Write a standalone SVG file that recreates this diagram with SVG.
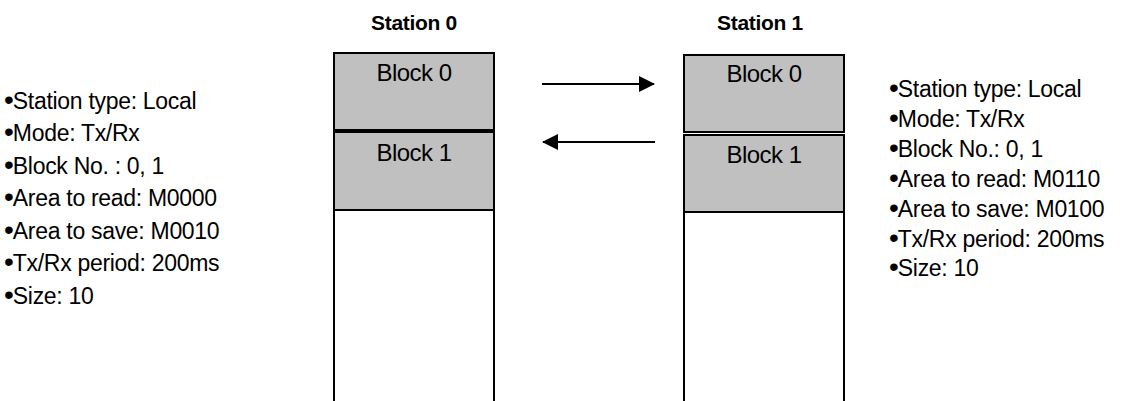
<svg xmlns="http://www.w3.org/2000/svg" width="1128" height="401" viewBox="0 0 1128 401">
<style>
  .t { font-family: "Liberation Sans", Arial, sans-serif; font-size: 23px; fill: #000; letter-spacing: -0.3px; }
  .bu { font-size: 28px; letter-spacing: -1px; }
  .h { font-family: "Liberation Sans", Arial, sans-serif; font-size: 21px; font-weight: bold; fill: #000; text-anchor: middle; letter-spacing: -0.3px; }
  .b { font-family: "Liberation Sans", Arial, sans-serif; font-size: 24px; fill: #000; text-anchor: middle; letter-spacing: -0.5px; }
  .blk { fill: #c0c0c0; stroke: #000; stroke-width: 2; }
  .col { fill: none; stroke: #000; stroke-width: 2; }
  .conn { stroke: #000; stroke-width: 2; fill: none; }
</style>
<defs>
  <marker id="ah" markerWidth="16" markerHeight="16" refX="15" refY="8" orient="auto" markerUnits="userSpaceOnUse">
    <path d="M0,0 L16,8 L0,16 Z" fill="#000"/>
  </marker>
</defs>
<rect width="1128" height="401" fill="#fff"/>

<g id="station0">
  <text class="h" x="414" y="30">Station 0</text>
  <path class="col" d="M334,210 V402 M494,210 V402"/>
  <g id="s0-block0">
    <rect class="blk" x="334" y="53" width="160" height="77"/>
    <text class="b" x="414" y="81">Block 0</text>
  </g>
  <g id="s0-block1">
    <rect class="blk" x="334" y="132" width="160" height="78"/>
    <text class="b" x="414" y="161">Block 1</text>
  </g>
</g>

<g id="station1">
  <text class="h" x="760" y="30">Station 1</text>
  <path class="col" d="M684,212 V402 M844,212 V402"/>
  <g id="s1-block0">
    <rect class="blk" x="684" y="55" width="160" height="77"/>
    <text class="b" x="764" y="82">Block 0</text>
  </g>
  <g id="s1-block1">
    <rect class="blk" x="684" y="135" width="160" height="77"/>
    <text class="b" x="764" y="163">Block 1</text>
  </g>
</g>

<g id="info0">
  <text class="t" x="4" y="109"><tspan class="bu">•</tspan>Station type: Local</text>
  <text class="t" x="4" y="141"><tspan class="bu">•</tspan>Mode: Tx/Rx</text>
  <text class="t" x="4" y="174"><tspan class="bu">•</tspan>Block No. : 0, 1</text>
  <text class="t" x="4" y="206"><tspan class="bu">•</tspan>Area to read: M0000</text>
  <text class="t" x="4" y="239"><tspan class="bu">•</tspan>Area to save: M0010</text>
  <text class="t" x="4" y="271"><tspan class="bu">•</tspan>Tx/Rx period: 200ms</text>
  <text class="t" x="4" y="304"><tspan class="bu">•</tspan>Size: 10</text>
</g>

<g id="info1">
  <text class="t" x="889" y="97"><tspan class="bu">•</tspan>Station type: Local</text>
  <text class="t" x="889" y="127"><tspan class="bu">•</tspan>Mode: Tx/Rx</text>
  <text class="t" x="889" y="157"><tspan class="bu">•</tspan>Block No.: 0, 1</text>
  <text class="t" x="889" y="187"><tspan class="bu">•</tspan>Area to read: M0110</text>
  <text class="t" x="889" y="217"><tspan class="bu">•</tspan>Area to save: M0100</text>
  <text class="t" x="889" y="247"><tspan class="bu">•</tspan>Tx/Rx period: 200ms</text>
  <text class="t" x="889" y="276"><tspan class="bu">•</tspan>Size: 10</text>
</g>

<g id="connectors">
  <line class="conn" x1="542" y1="84" x2="654" y2="84" marker-end="url(#ah)"/>
  <line class="conn" x1="655" y1="142" x2="543" y2="142" marker-end="url(#ah)"/>
</g>
</svg>
